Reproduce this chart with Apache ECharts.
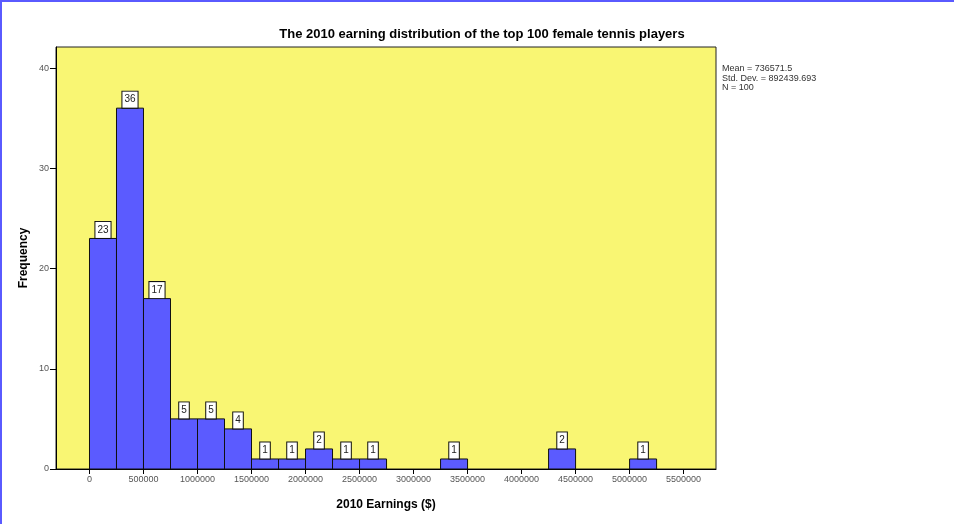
<!DOCTYPE html>
<html>
<head>
<meta charset="utf-8">
<script src="https://cdn.jsdelivr.net/npm/echarts@6/dist/echarts.min.js"></script>
<style>
html,body{margin:0;padding:0;background:#fff;}
#frame{position:absolute;left:0;top:0;width:952px;height:522px;border-top:2px solid #5a5aff;border-left:2px solid #5a5aff;}
#chart{position:absolute;left:0;top:0;width:954px;height:524px;}
</style>
</head>
<body>
<div id="frame"></div>
<div id="chart"></div>
<script>
const binStarts = [0, 250000, 500000, 750000, 1000000, 1250000, 1500000, 1750000, 2000000, 2250000, 2500000, 3250000, 4250000, 5000000];
const frequencies = [23, 36, 17, 5, 5, 4, 1, 1, 2, 1, 1, 1, 2, 1];
const binWidth = 250000;
const xTicks = [0, 500000, 1000000, 1500000, 2000000, 2500000, 3000000, 3500000, 4000000, 4500000, 5000000, 5500000];
const yTicks = [0, 10, 20, 30, 40];
const statsLines = ['Mean = 736571.5', 'Std. Dev. = 892439.693', 'N = 100'];

const chart = echarts.init(document.getElementById('chart'), null, {renderer: 'canvas'});
const data = binStarts.map((s, i) => [s, s + binWidth, frequencies[i]]);
const FONT = 'Liberation Sans, Arial, sans-serif';

chart.setOption({
  animation: false,
  backgroundColor: 'transparent',
  title: {
    text: 'The 2010 earning distribution of the top 100 female tennis players',
    left: 477, top: 23, textAlign: 'center',
    textStyle: {fontFamily: FONT, fontSize: 13, fontWeight: 'bold', color: '#000'}
  },
  graphic: [{
    type: 'text', left: 722, top: 64,
    style: {text: statsLines.join('\n'), fontFamily: FONT, fontSize: 9, lineHeight: 9.5, fill: '#333'}
  }],
  grid: {left: 56, top: 47, width: 660, height: 422, show: true, backgroundColor: '#f9f673', borderColor: '#222', borderWidth: 1},
  xAxis: {
    type: 'value', min: -310000, max: 5800000,
    interval: 500000,
    name: '2010 Earnings ($)', nameLocation: 'middle', nameGap: 30,
    nameTextStyle: {fontFamily: FONT, fontSize: 12, fontWeight: 'bold', color: '#000'},
    axisLine: {show: true, onZero: false, lineStyle: {color: '#000', width: 1}},
    axisTick: {show: true, length: 5, lineStyle: {color: '#000'}, customValues: xTicks},
    axisLabel: {customValues: xTicks, fontFamily: FONT, fontSize: 9, color: '#555', margin: 6,
      formatter: v => String(v)},
    splitLine: {show: false}
  },
  yAxis: {
    type: 'value', min: 0, max: 42.1,
    name: 'Frequency', nameLocation: 'middle', nameGap: 26, nameRotate: 90,
    nameMoveOverlap: false,
    nameTextStyle: {fontFamily: FONT, fontSize: 12, fontWeight: 'bold', color: '#000'},
    axisLine: {show: true, onZero: false, lineStyle: {color: '#000'}},
    axisTick: {show: true, length: 6, lineStyle: {color: '#000'}, customValues: yTicks},
    axisLabel: {customValues: yTicks, fontFamily: FONT, fontSize: 9, color: '#555', margin: 7},
    splitLine: {show: false}
  },
  series: [{
    type: 'custom',
    data: data,
    encode: {x: [0, 1], y: 2},
    renderItem: function (params, api) {
      const x0 = api.value(0), x1 = api.value(1), f = api.value(2);
      const p0 = api.coord([x0, f]);
      const p1 = api.coord([x1, 0]);
      return {
        type: 'rect',
        shape: {x: p0[0], y: p0[1], width: p1[0] - p0[0], height: p1[1] - p0[1]},
        style: {fill: '#5b5bff', stroke: '#111', lineWidth: 1},
        textContent: {
          style: {
            text: String(f),
            fontFamily: FONT, fontSize: 10,
            fill: '#222', backgroundColor: '#fff', borderColor: '#111', borderWidth: 1,
            padding: [3, 2, 3, 2]
          }
        },
        textConfig: {position: 'top', distance: 0}
      };
    }
  }]
});
</script>
</body>
</html>
